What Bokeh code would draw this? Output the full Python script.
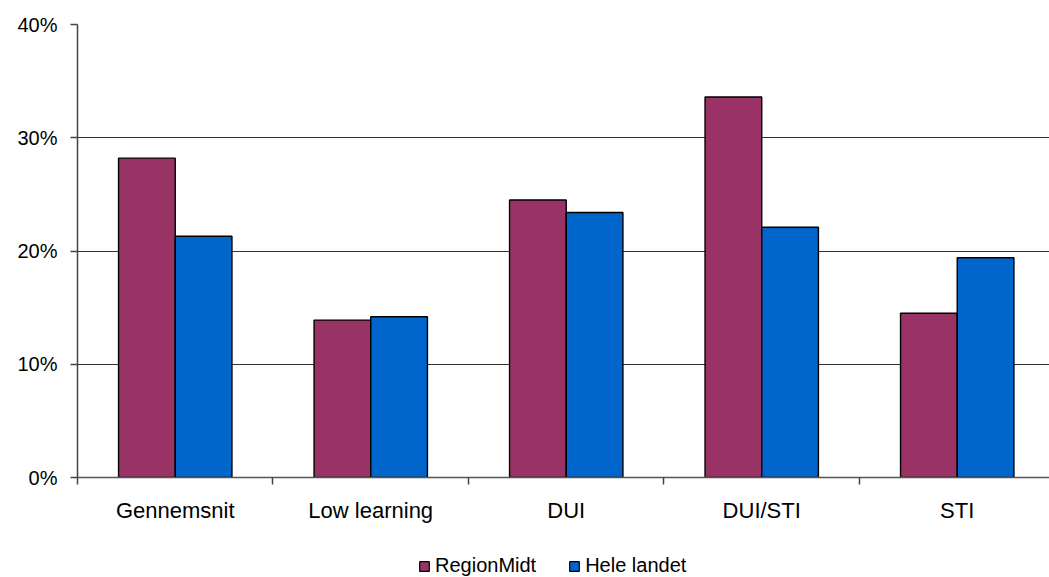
from bokeh.plotting import figure
from bokeh.models import ColumnDataSource, Range1d, FixedTicker, Legend, LegendItem
from bokeh.layouts import column
from bokeh.embed import file_html
from bokeh.resources import INLINE

categories = ["Gennemsnit", "Low learning", "DUI", "DUI/STI", "STI"]
region_midt = [28.2, 13.9, 24.5, 33.6, 14.5]
hele_landet = [21.3, 14.2, 23.4, 22.1, 19.4]
y_ticks = [0, 10, 20, 30, 40]
series_names = ["RegionMidt", "Hele landet"]
colors = ["#993366", "#0066CC"]

FONT = "Liberation Sans"
idx = list(range(len(categories)))
centers = [i + 0.5 for i in idx]

W = 1049
p = figure(width=W, height=533, output_backend="svg", toolbar_location=None,
           x_range=Range1d(0, 4.972), y_range=Range1d(0, 40),
           min_border_left=77, min_border_top=24, min_border_right=0, min_border_bottom=56)
p.outline_line_color = None
p.background_fill_color = "white"
p.border_fill_color = "white"

src = ColumnDataSource(dict(
    x_r=[c - 0.145 for c in centers],
    x_h=[c + 0.145 for c in centers],
    region=region_midt, hele=hele_landet, cat=categories))

p.vbar(x="x_r", top="region", width=0.29, bottom=0, source=src,
       fill_color=colors[0], line_color="black", line_width=1.4)
p.vbar(x="x_h", top="hele", width=0.29, bottom=0, source=src,
       fill_color=colors[1], line_color="black", line_width=1.4)

# y axis
p.yaxis.ticker = FixedTicker(ticks=y_ticks, minor_ticks=[])
p.yaxis.major_label_overrides = {t: f"{t}%" for t in y_ticks}
p.yaxis.major_label_text_font = FONT
p.yaxis.major_label_text_font_size = "20px"
p.yaxis.major_label_text_color = "black"
p.yaxis.axis_line_color = "#444444"
p.yaxis.axis_line_width = 1.5
p.yaxis.major_tick_line_color = "#444444"
p.yaxis.major_tick_line_width = 1.5
p.yaxis.major_tick_in = 0
p.yaxis.major_tick_out = 7
p.yaxis.minor_tick_line_color = None
p.yaxis.major_label_standoff = 13

# x axis: labels at centers, ticks at boundaries (as minor ticks)
p.xaxis.ticker = FixedTicker(ticks=centers, minor_ticks=[0, 1, 2, 3, 4, 5])
p.xaxis.major_label_overrides = {c: categories[i] for i, c in enumerate(centers)}
p.xaxis.major_label_text_font = FONT
p.xaxis.major_label_text_font_size = "22px"
p.xaxis.major_label_text_color = "black"
p.xaxis.major_tick_line_color = None
p.xaxis.major_tick_out = 0
p.xaxis.major_tick_in = 0
p.xaxis.minor_tick_line_color = "#444444"
p.xaxis.minor_tick_line_width = 1.5
p.xaxis.minor_tick_out = 7
p.xaxis.minor_tick_in = 0
p.xaxis.axis_line_color = "#555555"
p.xaxis.axis_line_width = 1.5
p.xaxis.major_label_standoff = 13

p.xgrid.grid_line_color = None
p.ygrid.ticker = FixedTicker(ticks=y_ticks)
p.ygrid.grid_line_color = "#333333"
p.ygrid.grid_line_width = 1

# legend strip below the chart (swatch renderers sit outside the visible range)
lg = figure(width=W, height=44, output_backend="svg", toolbar_location=None,
            x_range=Range1d(0, 1), y_range=Range1d(0, 1),
            min_border_left=0, min_border_right=0, min_border_top=0, min_border_bottom=0)
lg.axis.visible = False
lg.grid.grid_line_color = None
lg.outline_line_color = None
lg.background_fill_color = "white"
lg.border_fill_color = "white"
d1 = lg.vbar(x=[-500], top=[-500], bottom=[-501], width=1,
             fill_color=colors[0], line_color="black", line_width=1.2)
d2 = lg.vbar(x=[-500], top=[-500], bottom=[-501], width=1,
             fill_color=colors[1], line_color="black", line_width=1.2)
legend = Legend(items=[LegendItem(label=series_names[0], renderers=[d1]),
                       LegendItem(label=series_names[1], renderers=[d2])],
                orientation="horizontal", location=(341, 0),
                label_text_font=FONT, label_text_font_size="20px",
                label_text_color="black",
                glyph_width=12, glyph_height=12, label_standoff=5, spacing=32,
                border_line_color=None, background_fill_alpha=0,
                margin=0, padding=2)
lg.add_layout(legend)

layout = column(p, lg, spacing=0)
open("out.html", "w").write(file_html(layout, INLINE))
